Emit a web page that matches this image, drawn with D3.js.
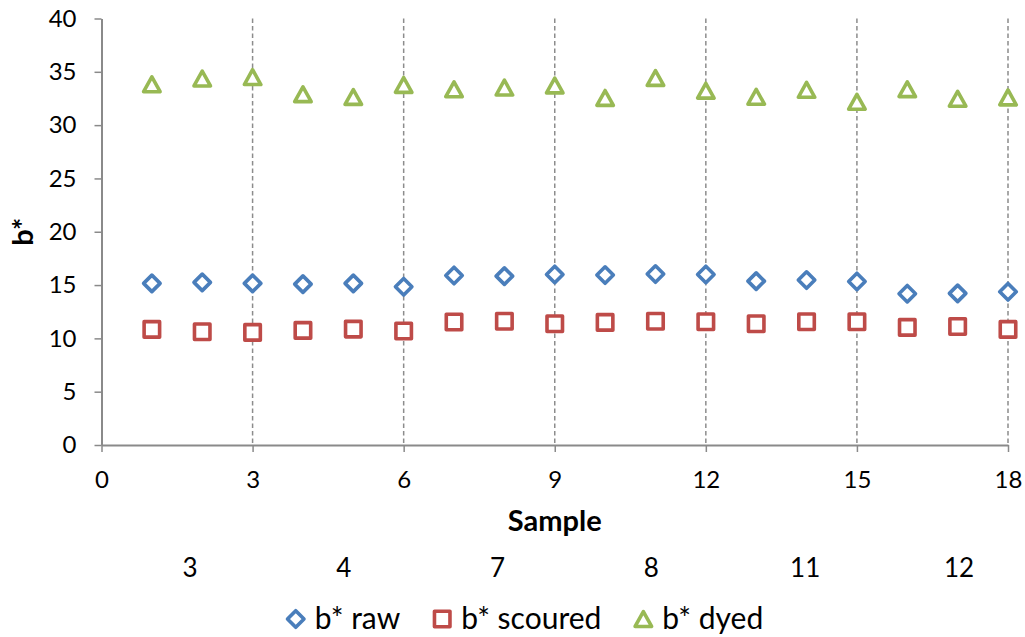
<!DOCTYPE html>
<html>
<head>
<meta charset="utf-8">
<script src="https://cdn.jsdelivr.net/npm/d3@7"></script>
<style>
  html, body { margin: 0; padding: 0; background: #ffffff; }
  svg { display: block; }
  text { font-family: Lato, "Open Sans", sans-serif; fill: #000; }
</style>
</head>
<body>
<svg id="chart" width="1025" height="637"></svg>
<script>
const samples = [1, 2, 3, 4, 5, 6, 7, 8, 9, 10, 11, 12, 13, 14, 15, 16, 17, 18];
const rawValues = [15.16, 15.25, 15.16, 15.09, 15.16, 14.84, 15.9, 15.84, 16.0, 15.94, 16.03, 16.0, 15.37, 15.47, 15.34, 14.19, 14.22, 14.37];
const scouredValues = [10.84, 10.62, 10.56, 10.75, 10.87, 10.69, 11.53, 11.6, 11.37, 11.5, 11.6, 11.56, 11.37, 11.56, 11.56, 11.03, 11.12, 10.84];
const dyedValues = [33.83, 34.37, 34.5, 32.9, 32.64, 33.77, 33.36, 33.52, 33.72, 32.55, 34.42, 33.23, 32.66, 33.31, 32.19, 33.37, 32.47, 32.6];
const xTicks = [0, 3, 6, 9, 12, 15, 18];
const yTicks = [0, 5, 10, 15, 20, 25, 30, 35, 40];
const secondaryLabels = ["3", "4", "7", "8", "11", "12"];
const seriesNames = ["b* raw", "b* scoured", "b* dyed"];
const xTitle = "Sample";
const yTitle = "b*";

const colors = ["#4A7EBB", "#BE4B48", "#98B954"];
const axisColor = "#8a8a8a";

const svg = d3.select("#chart");
const x = d3.scaleLinear().domain([0, 18]).range([101.5, 1008]);
const y = d3.scaleLinear().domain([0, 40]).range([445, 18.5]);

// custom symbol types
const diamondType = { draw(ctx, size) { const r = Math.sqrt(size) / 2; ctx.moveTo(0, -r); ctx.lineTo(r, 0); ctx.lineTo(0, r); ctx.lineTo(-r, 0); ctx.closePath(); } };
const squareType = { draw(ctx, size) { const r = Math.sqrt(size) / 2; ctx.rect(-r, -r, 2 * r, 2 * r); } };
const triangleType = { draw(ctx, size) { const r = Math.sqrt(size) / 2; ctx.moveTo(0, -r * 0.9); ctx.lineTo(r, r * 0.9); ctx.lineTo(-r, r * 0.9); ctx.closePath(); } };
const symbols = [
  d3.symbol().type(diamondType).size(16.5 * 16.5),
  d3.symbol().type(squareType).size(15.5 * 15.5),
  d3.symbol().type(triangleType).size(16.5 * 16.5)
];
const markerStroke = 3.6;

// gridlines (vertical dashed)
svg.append("g").selectAll("line")
  .data(xTicks.filter(d => d > 0))
  .join("line")
  .attr("x1", d => x(d)).attr("x2", d => x(d))
  .attr("y1", y(40)).attr("y2", y(0))
  .attr("stroke", "#8c8c8c").attr("stroke-width", 1.5)
  .attr("stroke-dasharray", "4.5,3");

// Y axis
const yAxis = svg.append("g")
  .attr("transform", `translate(${x(0)},0)`)
  .call(d3.axisLeft(y).tickValues(yTicks).tickSize(7).tickSizeOuter(0).tickPadding(18));
yAxis.select(".domain").attr("stroke", axisColor).attr("stroke-width", 2);
yAxis.selectAll(".tick line").attr("stroke", axisColor).attr("stroke-width", 1.5);
yAxis.selectAll(".tick text").attr("font-size", 24).attr("font-family", "Lato").attr("fill", "#000");

// X axis
const xAxis = svg.append("g")
  .attr("transform", `translate(0,${y(0)})`)
  .call(d3.axisBottom(x).tickValues(xTicks).tickSize(7).tickSizeOuter(0));
xAxis.select(".domain").attr("stroke", axisColor).attr("stroke-width", 2);
xAxis.selectAll(".tick line").attr("stroke", axisColor).attr("stroke-width", 1.5);
xAxis.selectAll(".tick text").attr("font-size", 24).attr("font-family", "Lato").attr("fill", "#000")
  .attr("dy", null).attr("y", 43);

// Y title
svg.append("text")
  .attr("transform", `translate(33,${(y(0) + y(40)) / 2}) rotate(-90)`)
  .attr("text-anchor", "middle")
  .attr("font-weight", "bold").attr("font-size", 29)
  .text(yTitle);

// X title
svg.append("text")
  .attr("x", (x(0) + x(18)) / 2).attr("y", 531)
  .attr("text-anchor", "middle")
  .attr("font-weight", "bold").attr("font-size", 29)
  .text(xTitle);

// secondary category labels
const x2 = d3.scalePoint().domain(secondaryLabels).range([190, 959]);
svg.append("g").selectAll("text")
  .data(secondaryLabels)
  .join("text")
  .attr("x", d => x2(d)).attr("y", 577)
  .attr("text-anchor", "middle").attr("font-size", 26)
  .text(d => d);

// series
const allSeries = [rawValues, scouredValues, dyedValues];
allSeries.forEach((vals, i) => {
  svg.append("g").selectAll("path")
    .data(samples.map((s, j) => ({ s, v: vals[j] })))
    .join("path")
    .attr("transform", d => `translate(${x(d.s)},${y(d.v)})`)
    .attr("d", symbols[i]())
    .attr("fill", "#fff")
    .attr("stroke", colors[i]).attr("stroke-width", markerStroke)
    .attr("stroke-linejoin", "round");
});

// legend
const legend = svg.append("g");
let cursor = 0;
seriesNames.forEach((name, i) => {
  const g = legend.append("g").attr("transform", `translate(${cursor},0)`);
  g.append("path").attr("transform", "translate(9,0)")
    .attr("d", symbols[i]())
    .attr("fill", "#fff").attr("stroke", colors[i]).attr("stroke-width", markerStroke)
    .attr("stroke-linejoin", "round");
  const t = g.append("text").attr("x", 28).attr("y", 10).attr("font-size", 30).text(name);
  cursor += 28 + t.node().getComputedTextLength() + 33;
});
const legendWidth = cursor - 33;
legend.attr("transform", `translate(${525 - legendWidth / 2},619)`);
</script>
</body>
</html>
